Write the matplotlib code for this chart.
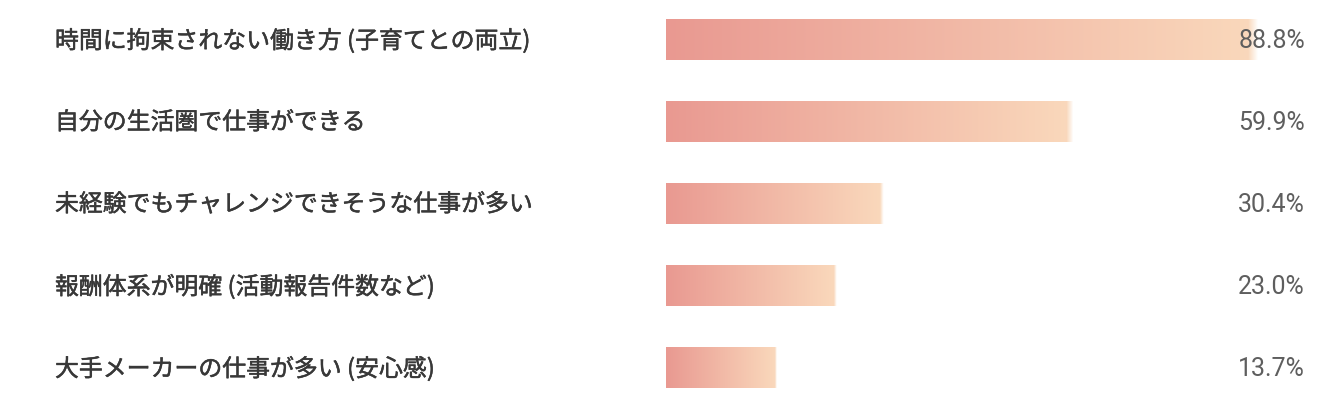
import numpy as np
import matplotlib
matplotlib.use("Agg")
import matplotlib.pyplot as plt
import matplotlib.transforms as mtransforms
import matplotlib.patheffects as pe

## datos
labels = ['時間に拘束されない働き方 (子育てとの両立)',
          '自分の生活圏で仕事ができる',
          '未経験でもチャレンジできそうな仕事が多い',
          '報酬体系が明確 (活動報告件数など)',
          '大手メーカーの仕事が多い (安心感)']
values = [88.8, 59.9, 30.4, 23.0, 13.7]
value_labels = ['88.8%', '59.9%', '30.4%', '23.0%', '13.7%']

W, H, DPI = 1342, 408, 100
c_left = np.array([233, 153, 145]) / 255
c_right = np.array([250, 217, 188]) / 255
pad = 3.1      # pequeño tramo inicial de la barra
bar_h = 0.49
label_color = '#383838'

fig = plt.figure(figsize=(W / DPI, H / DPI), dpi=DPI)
fig.patch.set_facecolor('white')
ax = fig.add_axes([666 / W, 0, (1312 - 666) / W, 1])
ax.axis('off')

def gradient(n=300):
    t = np.linspace(0, 1, n)
    rgb = c_left[None, :] * (1 - t[:, None]) + c_right[None, :] * t[:, None]
    alpha = np.ones(n)
    fade = 6
    alpha[-fade:] = np.linspace(1, 0.0, fade)
    img = np.concatenate([rgb, alpha[:, None]], axis=1)
    return img[None, :, :]

for i, v in enumerate(values):
    ax.imshow(gradient(), extent=(-pad, v + 0.4, i + bar_h / 2, i - bar_h / 2),
              aspect='auto', interpolation='bilinear', zorder=1)

ax.set_xlim(-pad, (1312 - 686) / 6.42)
ax.set_ylim(4.488, -0.488)

# peso "medium": regular con un trazo fino
medium = [pe.withStroke(linewidth=0.35, foreground=label_color)]

trans = mtransforms.blended_transform_factory(fig.transFigure, ax.transData)
for i, (lab, vl) in enumerate(zip(labels, value_labels)):
    fig.text(55 / W, i + 0.01, lab, transform=trans, ha='left', va='center',
             fontsize=17.2, color=label_color, path_effects=medium,
             family=['Noto Sans CJK JP', 'DejaVu Sans'])
    fig.text(1305 / W, i + 0.01, vl, transform=trans, ha='right', va='center',
             fontsize=18, color='#5e5e5e', family=['Roboto', 'DejaVu Sans'],
             zorder=3)

fig.savefig('out.png', dpi=DPI, facecolor='white')
